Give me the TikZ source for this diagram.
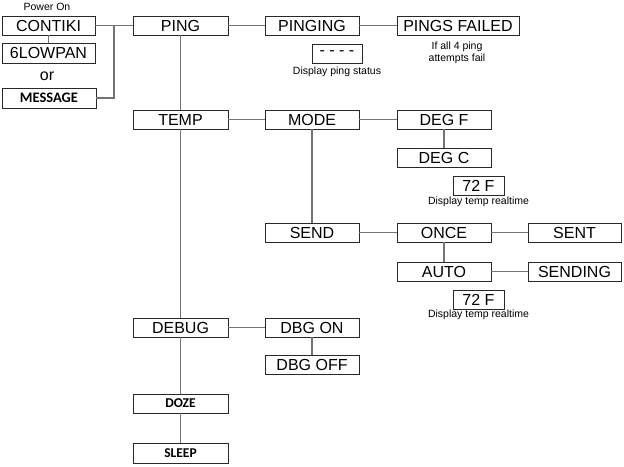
\documentclass[tikz,border=0pt]{standalone}
\usepackage{fontspec}
\setmainfont{Liberation Sans}
\newfontfamily\calibfont{Carlito}
\definecolor{linegray}{RGB}{115,115,115}
\definecolor{boxline}{RGB}{40,40,40}
\begin{document}
\begin{tikzpicture}[x=1pt,y=-1pt,
  box/.style={draw=boxline, line width=0.9pt, minimum height=19pt, minimum width=94pt, inner sep=0pt, fill=white, font=\fontsize{16}{17}\selectfont},
  boldbox/.style={box, font=\calibfont\bfseries\fontsize{13.5}{15}\selectfont},
  smallbox/.style={box, minimum width=51pt},
  note/.style={inner sep=0pt, font=\fontsize{10.5}{12}\selectfont},
  conn/.style={draw=linegray, line width=1.5pt}
]
\useasboundingbox (0,0) rectangle (624,466);
% left column
\node[note] (power) at (47,7) {Power On};
\node[box, minimum width=93pt] (contiki) at (48.5,25.5) {CONTIKI};
\node[box, minimum width=93pt, minimum height=20pt] (lowpan) at (48.5,53) {6LOWPAN};
\node[inner sep=0pt, font=\fontsize{16}{17}\selectfont] (or) at (47,76) {or};
\node[boldbox, minimum height=20pt, font=\calibfont\bfseries\fontsize{14.5}{15}\selectfont] (message) at (49,98) {MESSAGE};
% main column
\node[box, minimum width=95pt] (ping) at (180.5,25.5) {PING};
\node[box, minimum width=95pt] (temp) at (180.5,119.5) {TEMP};
\node[box, minimum width=95pt] (debug) at (180.5,327.5) {DEBUG};
\node[boldbox, minimum width=95pt] (doze) at (180.5,403.5) {DOZE};
\node[boldbox, minimum width=95pt, minimum height=20pt] (sleep) at (180.5,453) {SLEEP};
% ping branch
\node[box] (pinging) at (312,25.5) {PINGING};
\node[box, minimum width=122pt] (failed) at (458,25.5) {PINGS FAILED};
\node[box, minimum width=50pt] (dashes) at (337,53.5) {- - - -};
\node[note] (pingstat) at (337,72) {Display ping status};
\node[note, align=center] (failnote) at (457,53) {If all 4 ping\\attempts fail};
% temp branch
\node[box] (mode) at (312,119.5) {MODE};
\node[box] (degf) at (444,119.5) {DEG F};
\node[box] (degc) at (444,157.5) {DEG C};
\node[smallbox] (tempa) at (478.5,185.5) {72 F};
\node[note] (tempanote) at (478.5,202) {Display temp realtime};
\node[box] (send) at (312,232.5) {SEND};
\node[box] (once) at (444,232.5) {ONCE};
\node[box, minimum width=93pt] (sent) at (574.5,232.5) {SENT};
\node[box] (auto) at (444,271.5) {AUTO};
\node[box, minimum width=93pt] (sending) at (574.5,271.5) {SENDING};
\node[smallbox] (tempb) at (478.5,299.5) {72 F};
\node[note] (tempbnote) at (478.5,315) {Display temp realtime};
% debug branch
\node[box] (dbgon) at (312,327.5) {DBG ON};
\node[box] (dbgoff) at (312,365) {DBG OFF};
% connectors
\coordinate (join) at (114,25.5);
\draw[conn] (contiki.east) -- (ping.west);
\draw[conn] (message.east) -| (join);
\draw[conn] (contiki.south) -- (lowpan.north);
\draw[conn] (ping.south) -- (temp.north);
\draw[conn] (temp.south) -- (debug.north);
\draw[conn] (debug.south) -- (doze.north);
\draw[conn] (doze.south) -- (sleep.north);
\draw[conn] (ping.east) -- (pinging.west);
\draw[conn] (pinging.east) -- (failed.west);
\draw[conn] (temp.east) -- (mode.west);
\draw[conn] (mode.east) -- (degf.west);
\draw[conn] (degf.south) -- (degc.north);
\draw[conn] (mode.south) -- (send.north);
\draw[conn] (send.east) -- (once.west);
\draw[conn] (once.east) -- (sent.west);
\draw[conn] (once.south) -- (auto.north);
\draw[conn] (auto.east) -- (sending.west);
\draw[conn] (debug.east) -- (dbgon.west);
\draw[conn] (dbgon.south) -- (dbgoff.north);
\end{tikzpicture}
\end{document}
